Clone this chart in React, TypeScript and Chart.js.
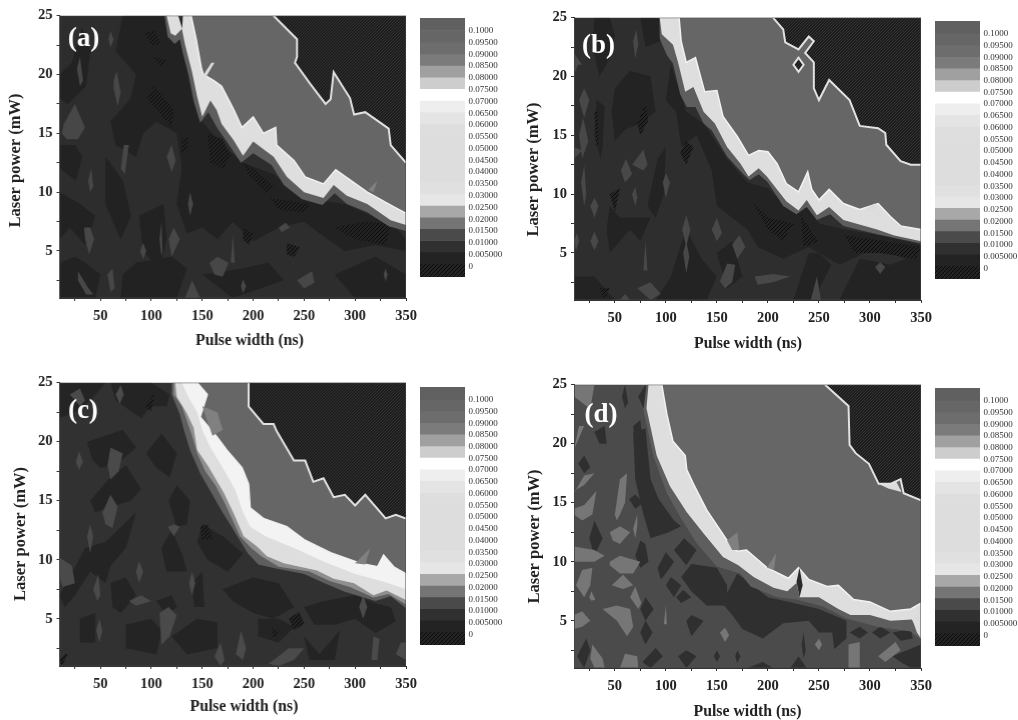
import React, { useEffect, useRef } from "react";
import { Chart, registerables } from "chart.js";
Chart.register(...registerables);

type Pt = [number, number];
const SERIF = '"Liberation Serif", serif';

// ---- axis content
const xTickValues = [25, 50, 75, 100, 125, 150, 175, 200, 225, 250, 275, 300, 325, 350];
const yTickValues = [2.5, 5, 7.5, 10, 12.5, 15, 17.5, 20, 22.5, 25];
const xTitle = "Pulse width (ns)";
const yTitle = "Laser power (mW)";

// ---- colour bar content (top to bottom)
const barEdges = [0.1054, 0.1001, 0.0952, 0.0902, 0.0853, 0.0803, 0.0754, 0.0704, 0.0655, 0.0605, 0.0556, 0.0506, 0.0457, 0.0407, 0.0358, 0.0308, 0.0259, 0.0209, 0.016, 0.011, 0.0061, 0.0011, -0.0045];
const barColors = ["#606060", "#666666", "#6d6d6d", "#7b7b7b", "#a0a0a0", "#cdcdcd", "#ffffff", "#eeeeee", "#e4e4e4", "#dedede", "#dddddd", "#dddddd", "#dddddd", "#dddddd", "#e0e0e0", "#e6e6e6", "#a8a8a8", "#757575", "#4a4a4a", "#303030", "#232323", "HATCH"];
const barTickValues = [0, 0.005, 0.01, 0.015, 0.02, 0.025, 0.03, 0.035, 0.04, 0.045, 0.05, 0.055, 0.06, 0.065, 0.07, 0.075, 0.08, 0.085, 0.09, 0.095, 0.1];
const barTickLabels = ["0", "0.005000", "0.01000", "0.01500", "0.02000", "0.02500", "0.03000", "0.03500", "0.04000", "0.04500", "0.05000", "0.05500", "0.06000", "0.06500", "0.07000", "0.07500", "0.08000", "0.08500", "0.09000", "0.09500", "0.1000"];

// ---- panel (a)
const aOuter: Pt[] = [[113, 25], [116, 23.2], [123, 22.6], [128, 23], [131, 21.8], [137, 19.8], [142, 17.6], [148, 15.9], [156, 16.8], [165, 15.4], [178, 13.8], [188, 12.5], [200, 13.3], [218, 12.3], [230, 10.6], [248, 9.4], [268, 8.9], [280, 9.9], [292, 9], [312, 8.3], [333, 7.1], [350, 6.7]];
const aLower: Pt[] = [[115, 25], [119, 23.5], [123.5, 23.3], [130, 23.9], [133, 22.6], [140, 20.2], [145, 18.1], [150, 16.4], [158, 17.8], [164, 17], [169, 15.8], [181, 14.4], [190, 13.1], [200, 14.3], [220, 13], [233, 11.3], [250, 10], [269, 9.5], [279, 10.6], [292, 9.7], [312, 9], [335, 7.6], [350, 7.2]];
const aUpper: Pt[] = [[139, 25], [144, 23], [149, 20.6], [151, 20], [161, 19.5], [169, 19], [181, 17], [189, 15.5], [200, 16.4], [210, 15], [222, 15.5], [223, 14], [240, 12.7], [251, 11.3], [269, 10.7], [281, 11.9], [312, 10], [335, 8.9], [350, 8.2]];
const aTop: Pt[] = [[220, 25], [243, 23], [243, 21.5], [241, 21], [256, 19.2], [271, 17.5], [276, 17.9], [279, 20.2], [295, 18], [299, 16.6], [310, 16.8], [333, 15.4], [335, 14], [350, 12.5]];
const aDark: Pt[][] = [
  [[72, 25], [118, 25], [120, 23.5], [130, 23], [135, 20.5], [140, 18], [150, 16], [170, 14], [190, 12.5], [220, 11.5], [250, 9.5], [290, 9], [340, 7], [350, 6], [350, 5], [320, 5.5], [290, 5], [265, 6.5], [250, 7.5], [225, 7], [200, 5.8], [180, 7.5], [165, 6], [150, 7], [135, 6.5], [125, 9], [130, 12], [125, 15], [105, 16], [92, 15], [85, 13], [65, 14], [60, 16], [80, 18], [85, 20], [65, 22]],
  [[10, 20], [22, 21], [32, 24], [40, 22], [36, 19], [18, 17.5], [10, 18]],
  [[10, 14], [25, 14], [32, 13], [26, 11], [10, 12]],
  [[10, 10], [30, 9], [45, 8], [35, 5.5], [20, 7], [10, 6]],
  [[55, 13], [72, 11], [80, 8], [70, 6], [55, 9]],
  [[88, 8], [112, 9], [115, 6], [108, 3.5], [92, 5]],
  [[10, 4], [25, 4.5], [35, 4], [50, 3], [45, 1], [10, 1]],
  [[70, 1], [125, 1], [135, 3.5], [120, 4.5], [85, 4], [72, 3]],
  [[150, 3], [180, 1], [230, 2.5], [215, 4], [190, 3.5]],
  [[280, 3], [320, 4.5], [350, 3], [350, 1], [300, 1]],
];
const aLight: Pt[][] = [
  [[14, 15.8], [25, 17.5], [35, 15.5], [28, 14.5], [17, 14.5], [12, 15]],
  [[63, 19.5], [66, 20.3], [70, 18.5], [67, 17.3], [63, 18.8]],
  [[30, 21.5], [33, 19.5], [30, 19], [27, 20.5]],
  [[78, 14], [74, 11.5], [70, 12], [73, 14]],
  [[34, 7], [40, 7], [44, 6], [39, 4.7], [35, 6]],
  [[28, 3.3], [37, 2], [43, 1.3], [36, 1.3], [28, 2.5]],
  [[117, 6], [122, 7], [128, 6], [120, 4.5]],
  [[157, 4], [165, 4.5], [176, 4], [170, 2.8], [162, 3]],
  [[243, 2.5], [258, 3.3], [260, 2.3], [250, 1.8]],
  [[115, 13], [120, 14], [124, 12.7], [120, 11.7]],
  [[38, 11], [41, 12], [43, 10.5], [40, 10]],
  [[58, 23], [60, 23.7], [63, 23], [60, 22.3]],
  [[178, 4], [182, 4], [180, 6.5]],
  [[89, 5], [92, 5.7], [95, 5], [92, 4.3]],
  [[133, 1], [140, 2.5], [148, 1]],
  [[57, 3], [62, 3.5], [64, 1.8], [60, 1.5]],
  [[136, 9], [138, 10], [141, 9], [138, 8]],
  [[328, 3], [330, 3.5], [332, 3], [330, 2.4]],
  [[188, 2], [190, 2.6], [193, 2], [190, 1.4]],
  [[225, 7], [232, 7.4], [236, 7], [228, 6.6]],
  [[108, 6], [110, 7.5], [111, 5], [110, 4.5]],
];
const aHatch: Pt[][] = [
  [[96, 18], [103, 19], [122, 17], [120, 15.5], [110, 16.5]],
  [[155, 15], [170, 14.5], [178, 13], [170, 12], [158, 12.5]],
  [[190, 12.5], [200, 12], [220, 10.5], [212, 10], [195, 11.5]],
  [[217, 9.5], [255, 9], [250, 8.3], [225, 8.5]],
  [[280, 7], [310, 7.5], [335, 7.3], [330, 5.5], [300, 6]],
  [[233, 5.7], [246, 5.3], [240, 4.5], [233, 4.7]],
  [[94, 23.5], [103, 23.8], [109, 22.5], [100, 22.5]],
  [[102, 21.5], [115, 21.2], [110, 20.6]],
  [[130, 14.5], [136, 14.8], [135, 13.5], [130, 13.4]],
  [[190, 7], [200, 6.5], [196, 5.5], [190, 6]],
];
const aGlow: Pt[][] = [[[150, 19.8], [159, 21], [162, 21], [153, 19.7]]];
const aHaze: Pt[][] = [[[313, 10.2], [322, 11], [318, 10]]];
const aSpike: Pt[][] = [[[126.5, 25], [131, 25], [130.3, 23.9]]];

// ---- panel (b)
const bOuter: Pt[] = [[93.7, 25], [94, 23.2], [101, 21.8], [107, 21.1], [114, 18.5], [120.5, 17.4], [129, 17.4], [137, 16], [145, 15.4], [160, 13.2], [176, 11.7], [182, 11.2], [191, 11.7], [200, 11], [215, 9], [228, 8.3], [238, 8.9], [248, 7.8], [261, 8.3], [274, 7.3], [307, 6.6], [323, 6.3], [350, 5.8]];
const bLower: Pt[] = [[94, 25], [96, 23.6], [107, 22.7], [112, 21.2], [119, 18.7], [127, 19.1], [137, 17], [148, 16], [160, 14], [173, 12.6], [181, 11.5], [191, 12.2], [199, 11.5], [218, 9.4], [230, 8.6], [238, 9.5], [248, 8.2], [260, 8.9], [274, 7.8], [307, 7], [323, 6.5], [350, 6]];
const bUpper: Pt[] = [[113, 25], [115, 23], [120, 21.2], [129, 21.6], [138, 18.7], [150, 18.8], [156, 16.6], [170, 14.9], [181, 13.3], [191, 13.7], [200, 13.6], [209, 12.6], [218, 10.9], [230, 10.2], [239, 11.9], [243, 10.4], [250, 9.5], [260, 10.4], [274, 9.2], [290, 8.7], [308, 9.2], [320, 8.1], [330, 7.3], [350, 7]];
const bTop: Pt[] = [[205, 25], [215, 24], [217, 22.9], [230, 22.3], [240, 23.4], [245, 23], [236.5, 22], [245, 21.2], [245, 19], [250, 18], [260, 19.7], [280, 18], [290, 15.8], [308, 15.6], [315, 15.2], [316, 14.2], [330, 12.8], [340, 12.5], [350, 12.5]];
const bDark: Pt[][] = [
  [[30, 25], [45, 25], [50, 23.5], [45, 21.5], [35, 20], [28, 22.5]],
  [[75, 25], [93, 25], [95, 23], [80, 22.5]],
  [[32, 18], [40, 17.5], [38, 14], [36, 13], [30, 15]],
  [[50, 19], [65, 20.5], [85, 20], [90, 17], [75, 16], [60, 15.5], [50, 14.5], [47, 17]],
  [[82, 9], [92, 13], [100, 14], [98, 10], [90, 8]],
  [[105, 21], [120, 17], [137, 16], [160, 13], [180, 11], [200, 10.5], [218, 9], [240, 8.8], [250, 7.5], [275, 7], [310, 6.5], [350, 5.7], [350, 4], [320, 5], [295, 5], [270, 4], [240, 5.5], [215, 4.5], [190, 5.5], [180, 7], [165, 8], [150, 9], [145, 12], [130, 15], [115, 14], [110, 17], [100, 18]],
  [[240, 5], [250, 5], [262, 4], [245, 1], [225, 1]],
  [[270, 1], [290, 4.5], [320, 4], [350, 5], [350, 1]],
  [[10, 3], [30, 3], [50, 1], [10, 1]],
  [[90, 1], [140, 1], [150, 3], [135, 4.5], [120, 7], [112, 5], [105, 3]],
  [[45, 9], [55, 8], [85, 8], [75, 6], [65, 7], [60, 6.5], [45, 5], [42, 7]],
  [[150, 5], [165, 6], [175, 3], [160, 2]],
];
const bLight: Pt[][] = [
  [[10, 20.2], [14, 21], [18, 21], [10, 22]],
  [[15, 18], [20, 19], [25, 18], [20, 16.5]],
  [[15, 15], [19, 16.5], [24, 14.5], [18, 13]],
  [[10, 14], [18, 13.7], [10, 13]],
  [[68, 23], [71, 24], [73, 22.7], [70, 21.5]],
  [[56, 12], [61, 13], [67, 11.7], [60, 11]],
  [[67, 12.5], [78, 13.8], [82, 12.5], [78, 12]],
  [[17, 11], [20, 12.5], [22, 10], [20, 9]],
  [[67, 10], [70, 10.6], [72, 9.7], [70, 9]],
  [[97, 11], [100, 11.8], [104, 11], [100, 9.7]],
  [[26, 9], [30, 9.7], [34, 9], [30, 8]],
  [[26, 6], [30, 6.8], [34, 6], [30, 5.2]],
  [[10, 6], [13, 6.7], [15, 6], [12, 5.2]],
  [[116, 7], [120, 8.2], [124, 7], [120, 5.5]],
  [[117, 5], [120, 6], [123, 4.7], [120, 3.3]],
  [[145, 7], [150, 8], [155, 6.7], [150, 6]],
  [[78, 3.5], [80, 6], [82, 3.5]],
  [[153, 2.6], [160, 4.1], [168, 4], [165, 2.5], [158, 2]],
  [[165, 5.7], [172, 6.5], [178, 5.5], [170, 4.5]],
  [[72, 2], [85, 2.5], [95, 1.5], [85, 1]],
  [[187, 3], [205, 3.2], [222, 3], [205, 2.5], [190, 2.3]],
  [[242, 1], [248, 3], [252, 1]],
  [[55, 1], [60, 1.5], [65, 1]],
  [[305, 3.8], [310, 4.2], [315, 3.8], [310, 3.2]],
];
const bHatch: Pt[][] = [
  [[30, 17], [33, 17], [34, 14.5], [32, 14]],
  [[72, 16], [80, 17.7], [83, 16.3], [75, 15]],
  [[114, 13.5], [120, 14.5], [127, 14], [120, 12.5]],
  [[185, 9.3], [200, 8], [225, 7.5], [215, 6], [200, 7]],
  [[232, 8.3], [245, 6.5], [250, 6], [235, 5.5]],
  [[275, 6.5], [300, 6.2], [350, 5.5], [345, 4.5], [310, 5], [285, 5]],
  [[45, 10], [55, 10.5], [50, 8.5]],
  [[35, 2], [45, 2], [40, 1]],
];
const bGlow: Pt[][] = [[[296, 8.8], [305, 9.2], [312, 8], [300, 8.5]]];
const bIsland: Pt[][] = [[[225, 21], [230, 21.6], [235, 21], [230, 20.4]]];

// ---- panel (c)
const cOuter: Pt[] = [[120, 25], [120, 24], [128, 22.3], [132, 21], [138, 19.3], [148, 17.3], [160, 15.5], [170, 14], [178, 12.9], [185, 11.9], [195, 10.5], [205, 9.6], [220, 9.3], [250, 8.8], [270, 8], [290, 7.3], [320, 6.5], [335, 6.9], [350, 5.9]];
const cMid: Pt[] = [[122, 25], [122, 24], [130, 23], [134, 22], [140, 20.5], [145, 19], [153, 17.5], [163, 16.3], [172, 14.8], [180, 13.3], [187, 12], [198, 11], [208, 10.3], [225, 9.4], [255, 9], [275, 8.2], [295, 7.7], [318, 6.8], [333, 7.1], [350, 6.2]];
const cLower: Pt[] = [[123.5, 25], [125, 23.8], [135, 22.4], [141.5, 21.2], [145, 19.3], [156, 17.9], [171, 15.7], [181, 13.9], [190.6, 12], [204, 11.1], [213.5, 10.3], [230, 9.7], [262.6, 9.1], [279, 8.4], [299, 8], [318, 7], [331, 7.4], [350, 6.6]];
const cCore: Pt[] = [[130, 25], [135, 24], [145, 22.5], [150, 21], [158, 19.5], [170, 17.8], [182, 16], [190, 14], [197, 12.8], [212, 12], [240, 11], [270, 9.8], [300, 8.8], [330, 8.1], [350, 7.5]];
const cUpper: Pt[] = [[145, 25], [155, 24], [148, 22.1], [164.5, 20.4], [174, 19.3], [189, 17.8], [195.5, 16.4], [197, 14.4], [210, 13.5], [233, 12.8], [250, 11.7], [276, 10.6], [305, 9.7], [322, 9.4], [328, 10.4], [338, 9.4], [350, 8.8]];
const cTop: Pt[] = [[195.5, 25], [195.5, 23], [210, 21.5], [220, 21.5], [223, 20.9], [240, 18.4], [251, 18.4], [259, 16.6], [269, 16.9], [279, 15.3], [290, 15.5], [300, 14.6], [310, 15.5], [330, 13.5], [340, 13.8], [350, 13.5]];
const cDark: Pt[][] = [
  [[37, 20], [72, 21], [85, 19.5], [65, 18], [50, 17.8], [42, 18.5]],
  [[95, 19], [110, 20.7], [125, 19], [118, 17], [105, 17.8]],
  [[40, 15], [60, 17], [75, 18], [90, 16], [80, 15], [60, 14.5], [45, 14]],
  [[117, 15], [125, 16.3], [138, 15], [135, 13], [125, 12.8]],
  [[10, 7], [20, 8.5], [35, 11], [55, 11.5], [85, 14], [75, 11], [60, 9.5], [55, 8], [40, 9], [25, 7], [15, 6]],
  [[110, 11], [120, 12.5], [130, 10.5], [135, 9], [115, 9]],
  [[150, 13], [170, 12], [190, 10.5], [175, 9], [155, 10], [145, 11.5]],
  [[10, 25], [55, 25], [40, 23.5], [25, 22.5], [10, 22]],
  [[60, 25], [100, 25], [118, 24], [115, 23], [100, 23], [90, 22], [65, 23.5]],
  [[60, 8], [75, 8.5], [85, 7], [70, 5.5], [62, 6]],
  [[105, 6.5], [120, 7], [125, 6], [115, 5.3]],
  [[140, 8], [150, 9], [152, 6], [142, 6]],
  [[170, 7.5], [200, 8.5], [225, 8], [240, 6], [220, 5], [200, 5.5], [180, 6.5]],
  [[250, 6], [270, 6.5], [300, 7], [320, 6.3], [335, 6], [340, 4.8], [320, 3.8], [300, 5], [280, 4.5], [260, 4.5]],
  [[205, 5], [225, 5], [240, 4.3], [225, 3], [205, 3.5]],
  [[75, 4.5], [100, 5], [110, 4], [105, 2], [75, 2.5]],
  [[120, 3.5], [145, 5], [165, 4.7], [165, 2.5], [135, 2]],
  [[30, 5], [45, 5.5], [45, 3], [30, 3]],
  [[250, 3.5], [265, 2], [285, 4], [280, 1.5], [255, 1.5]],
];
const cLight: Pt[][] = [
  [[52, 14], [60, 15.5], [67, 14.5], [62, 12.7], [55, 13]],
  [[57, 18], [60, 19.5], [72, 19], [68, 17.5], [60, 16.8]],
  [[26, 18.3], [29, 19.2], [33, 18.3], [29, 17.6]],
  [[10, 10.2], [22, 9.5], [25, 8], [13, 7.7], [10, 8.5]],
  [[43, 7.5], [48, 8.8], [50, 7], [47, 6.5]],
  [[108, 5.5], [117, 6], [125, 5.3], [118, 3.5], [110, 2.8]],
  [[78, 6.5], [90, 7], [100, 6.5], [85, 6.1]],
  [[85, 9], [88, 9.9], [92, 9], [88, 8]],
  [[116, 12.8], [122, 13], [128, 12.8], [122, 12]],
  [[37, 12], [40, 13], [43, 12], [40, 10.5]],
  [[183, 2], [188, 4], [193, 2.5], [190, 1.5]],
  [[215, 1.2], [235, 2.5], [250, 2.5], [240, 1.5], [225, 1]],
  [[316, 1.5], [318, 3.5], [324, 3.3], [322, 1.5]],
  [[340, 2], [345, 3], [350, 3], [350, 1.5]],
  [[162, 1.8], [168, 3], [172, 1.5], [168, 1]],
  [[304, 6], [308, 7], [312, 6], [308, 5]],
  [[46, 4], [49, 5], [52, 4], [49, 3]],
  [[20, 24], [30, 24.5], [35, 23.5], [30, 23]],
  [[65, 24], [70, 24.8], [73, 24], [69, 23.2]],
  [[137, 8], [140, 9], [143, 8], [140, 7]],
];
const cHatch: Pt[][] = [
  [[93, 23], [103, 24], [100, 22.6]],
  [[148, 12.8], [155, 13], [160, 11.8], [150, 11.7]],
  [[235, 5], [245, 5.6], [250, 4.6], [240, 4]],
  [[218, 4.2], [225, 3.9], [220, 3.4]],
  [[10, 1.5], [15, 2], [18, 2], [12, 1]],
];
const cHaze: Pt[][] = [[[150, 23], [165, 22.5], [170, 21], [160, 20.5]], [[300, 9.7], [315, 11], [310, 9.6]]];

// ---- panel (d)
const dOuter: Pt[] = [[81, 25], [78, 22.8], [88, 18.9], [101, 15.8], [114, 13.8], [130, 11.6], [150, 9.6], [173, 9], [183, 7.9], [209, 7], [228, 6.8], [254, 6.2], [277, 5.2], [307, 4.5], [340, 4.1], [350, 3.4]];
const dLower: Pt[] = [[83, 25], [81, 23], [91, 19], [104, 16.4], [120.5, 14.2], [137, 12.4], [156, 10.4], [171, 9.7], [186, 8.7], [205.5, 7.8], [219, 7.5], [228, 8.2], [231, 7], [250, 7], [269, 6], [281, 5.5], [300, 5.5], [320, 5], [341, 5.1], [350, 3.7]];
const dUpper: Pt[] = [[96, 25], [101, 22.5], [107, 20.2], [119, 19], [120.5, 17.8], [127, 16.6], [140, 14.4], [160, 11.8], [170, 10.9], [179, 11], [199, 9.5], [220, 8.6], [230, 9.5], [240, 8.5], [258, 7.9], [269, 8], [284, 6.8], [300, 6.6], [320, 5.8], [340, 6], [350, 6.5]];
const dTop: Pt[] = [[256, 25], [279, 23.2], [280, 19.9], [286, 19.2], [299, 18.3], [308.5, 16.6], [320, 16.6], [330, 17], [333, 15.8], [350, 15.2]];
const dDark: Pt[][] = [
  [[68, 21], [80, 21.3], [85, 17], [93, 15.3], [108, 13.5], [115, 13], [103, 12.5], [85, 12], [78, 14], [70, 17]],
  [[115, 8.7], [125, 9.8], [150, 9.5], [160, 8], [160, 6.3], [140, 6.3], [125, 7.5]],
  [[155, 6.5], [170, 9], [185, 8], [200, 7], [225, 6.5], [250, 6], [277, 5], [277, 3.5], [265, 2.6], [263, 4], [250, 4], [240, 5], [215, 4.8], [195, 3.5], [175, 4.3], [165, 5.5]],
  [[70, 10.5], [75, 11.8], [80, 11.5], [83, 10], [75, 9.5]],
  [[92, 9.5], [100, 10.8], [108, 10], [100, 9], [95, 8.5]],
  [[108, 11], [118, 12], [130, 11], [120, 9.7]],
  [[25, 12], [30, 13.5], [38, 12], [30, 10.5]],
  [[13, 2], [22, 3.5], [26, 2.5], [20, 1]],
  [[57, 24], [60, 25], [63, 23.5], [60, 23]],
  [[73, 24], [80, 25], [83, 23.5], [78, 23]],
  [[68, 21.5], [75, 22], [77, 20.5], [70, 20]],
  [[14, 18.3], [20, 19], [26, 18], [20, 17.5]],
  [[30, 21], [40, 21.5], [42, 20], [35, 20]],
  [[64, 15.3], [70, 15.7], [78, 15], [70, 14.5]],
  [[100, 8], [105, 8.7], [115, 8], [108, 7]],
  [[110, 7], [117, 7.6], [125, 7], [115, 6.5]],
  [[75, 6], [80, 7], [88, 6], [80, 5]],
  [[75, 4], [80, 5], [87, 4], [80, 3]],
  [[120, 5], [125, 5.5], [137, 5], [125, 3.7]],
  [[77, 1.5], [90, 2.7], [97, 2], [85, 1]],
  [[112, 2], [120, 2.5], [130, 2], [120, 1]],
  [[280, 4], [290, 4.5], [298, 4], [290, 3.5]],
  [[302, 4], [310, 4.5], [320, 4], [310, 3.5]],
  [[322, 4], [340, 4.3], [342, 3.5], [330, 3.3]],
  [[322, 2], [350, 3], [350, 1], [340, 1], [330, 1.5]],
  [[233, 3], [235, 4], [237, 2.5], [235, 1.8]],
  [[147, 2], [150, 2.5], [153, 2], [150, 1.5]],
  [[168, 2], [170, 2.5], [173, 2], [170, 1.4]],
  [[180, 1], [195, 1.5], [205, 1]],
  [[222, 1], [230, 2], [238, 1]],
];
const dLight: Pt[][] = [
  [[10, 25], [30, 25], [27, 23.5], [25, 23], [10, 24]],
  [[10, 19.5], [15, 21.5], [20, 21.5], [15, 20.5]],
  [[10, 15.8], [20, 17.3], [30, 17.5], [20, 16.5], [10, 16]],
  [[10, 14.5], [20, 14.8], [32, 16], [28, 14], [18, 13.5], [10, 14]],
  [[50, 14], [55, 17], [62, 17.5], [60, 15], [55, 14], [52, 13.5]],
  [[45, 12.5], [55, 13], [65, 12.5], [55, 11.5], [48, 11.8]],
  [[45, 10], [55, 10.5], [75, 10], [68, 9], [55, 9], [45, 9.7]],
  [[10, 11.3], [30, 11], [40, 10.5], [30, 10], [20, 10], [10, 10]],
  [[12, 8], [18, 9.3], [28, 9.5], [26, 8], [20, 7]],
  [[47, 8], [58, 8.9], [68, 8], [58, 7.7]],
  [[65, 7], [70, 7.9], [76, 6.5], [73, 6]],
  [[25, 7], [27, 7.5], [31, 6.8], [27, 6.7]],
  [[38, 6], [52, 6.3], [65, 6], [68, 4.5], [62, 3.7], [52, 5]],
  [[10, 5.5], [18, 5.8], [26, 5], [18, 4.5], [10, 4.3]],
  [[28, 3], [38, 1.8], [40, 1], [30, 1], [26, 1.8]],
  [[55, 1], [60, 2.2], [72, 2], [73, 1]],
  [[279, 1], [290, 1], [290, 3.2], [279, 3]],
  [[308, 2], [325, 3.2], [330, 2.5], [315, 1.5]],
  [[153, 4], [158, 4.4], [162, 3.8], [158, 3.2]],
  [[246, 3], [250, 3.5], [253, 3], [250, 2.5]],
  [[68, 12.8], [72, 14], [72, 13], [70, 12]],
  [[98, 4.7], [100, 6.3], [101, 4.7]],
];
const dGlow: Pt[][] = [[[342, 5], [350, 6.5], [350, 3.5], [346, 4]], [[308, 16.6], [325, 16.9], [331, 15.9], [318, 16.2]]];
const dHaze: Pt[][] = [[[160, 11.8], [170, 12.5], [172, 11], [165, 11]], [[199, 9.5], [208, 10.7], [206, 9.3]]];
const dSpike: Pt[][] = [[[228, 8.3], [231, 9.5], [234, 8], [231, 7]]];

const panelTags = ["(a)", "(b)", "(c)", "(d)"];
const tagAnchors: Pt[] = [[33.5, 23], [34, 22.6], [33, 22.6], [36.5, 22.4]];
const panelData = [
  { outer: aOuter, mid: null, lower: aLower, core: null, upper: aUpper, top: aTop, dark: aDark, light: aLight, hatch: aHatch, glow: aGlow, haze: aHaze, island: [], spike: aSpike },
  { outer: bOuter, mid: null, lower: bLower, core: null, upper: bUpper, top: bTop, dark: bDark, light: bLight, hatch: bHatch, glow: bGlow, haze: [], island: bIsland, spike: [] },
  { outer: cOuter, mid: cMid, lower: cLower, core: cCore, upper: cUpper, top: cTop, dark: cDark, light: cLight, hatch: cHatch, glow: [], haze: cHaze, island: [], spike: [] },
  { outer: dOuter, mid: null, lower: dLower, core: null, upper: dUpper, top: dTop, dark: dDark, light: dLight, hatch: [], glow: dGlow, haze: dHaze, island: [], spike: dSpike },
];
const panelTones = [
  { base: "#2d2d2d", dark: "#222222", light: "#474747" },
  { base: "#2e2e2e", dark: "#232323", light: "#484848" },
  { base: "#313131", dark: "#242424", light: "#4a4a4a" },
  { base: "#4b4b4b", dark: "#2f2f2f", light: "#767676" },
];
const plotBoxes = [
  { left: 59.5, top: 14.5, w: 346, h: 283.5, yTitleX: 16, yTitleCy: 160, xTitleCx: 249, xTitleY: 340 },
  { left: 574, top: 16.5, w: 347, h: 283.5, yTitleX: 534, yTitleCy: 169, xTitleCx: 748, xTitleY: 343 },
  { left: 59.5, top: 382, w: 346, h: 284, yTitleX: 21, yTitleCy: 534, xTitleCx: 243.5, xTitleY: 707 },
  { left: 574, top: 384, w: 347, h: 284, yTitleX: 535, yTitleCy: 536.5, xTitleCx: 747.5, xTitleY: 712 },
];
const barBoxes = [
  { left: 420, top: 18, h: 259 },
  { left: 935, top: 21, h: 258 },
  { left: 420, top: 387, h: 258 },
  { left: 935, top: 388, h: 258 },
];

function hatchPattern(bg: string, line: string, step: number) {
  const c = document.createElement("canvas");
  c.width = step;
  c.height = step;
  const g = c.getContext("2d")!;
  g.fillStyle = bg;
  g.fillRect(0, 0, step, step);
  g.strokeStyle = line;
  g.lineWidth = 1;
  g.beginPath();
  g.moveTo(-1, step + 1);
  g.lineTo(step + 1, -1);
  g.moveTo(-1, 1);
  g.lineTo(1, -1);
  g.moveTo(step - 1, step + 1);
  g.lineTo(step + 1, step - 1);
  g.stroke();
  return g.createPattern(c, "repeat")!;
}

const toXY = (p: Pt[]) => p.map(([x, y]) => ({ x, y }));
const region = (p: Pt[], color: any) => ({
  data: toXY(p), showLine: true, fill: "shape", backgroundColor: color, borderWidth: 0, borderColor: "transparent", pointRadius: 0, tension: 0,
});
const stroke = (p: Pt[], color: string, w: number) => ({
  data: toXY(p), showLine: true, fill: false, borderColor: color, borderWidth: w, pointRadius: 0, tension: 0, borderJoinStyle: "miter",
});
const toCorner = (p: Pt[]): Pt[] => [...p, [350, 25]];
const whole: Pt[] = [[10, 1], [350, 1], [350, 25], [10, 25]];
const wholeClosed: Pt[] = [[10, 1], [350, 1], [350, 25], [10, 25], [10, 1]];

function panelDatasets(i: number) {
  const d = panelData[i];
  const t = panelTones[i];
  const pale = hatchPattern("#232323", "#0a0a0a", 4);
  const black = hatchPattern("#1d1d1d", "#333333", 3);
  const sets: any[] = [region(whole, t.base)];
  d.dark.forEach((p) => sets.push(region(p, t.dark)));
  d.light.forEach((p) => sets.push(region(p, t.light)));
  d.hatch.forEach((p) => sets.push(region(p, pale)));
  sets.push(region(toCorner(d.outer), "#5e5e5e"));
  if (d.mid) sets.push(region(toCorner(d.mid), "#8f8f8f"));
  sets.push(region(toCorner(d.lower), "#dedede"));
  if (d.core) sets.push(region(toCorner(d.core), "#f3f3f3"));
  sets.push(region(toCorner(d.upper), "#666666"));
  sets.push(stroke(d.upper, "#f2f2f2", 1.5));
  d.haze.forEach((p) => sets.push(region(p, "#808080")));
  d.glow.forEach((p) => sets.push(region(p, "#dcdcdc")));
  sets.push(region(toCorner(d.top), black));
  sets.push(stroke(d.top, "#e2e2e2", 2));
  d.island.forEach((p) => {
    sets.push(region(p, black));
    sets.push(stroke([...p, p[0], p[1]], "#e2e2e2", 2));
  });
  d.spike.forEach((p) => sets.push(region(p, "#2a2a2a")));
  sets.push(stroke(wholeClosed, "#444444", 1));
  return sets.reverse();
}

function Panel({ index }: { index: number }) {
  const ref = useRef<HTMLCanvasElement>(null);
  const box = plotBoxes[index];
  const canvasLeft = box.yTitleX - 10;
  const canvasTop = box.top - 12;
  const axisW = box.left - canvasLeft;
  const padR = 20;
  const width = axisW + box.w + padR;
  const canvasBottom = box.xTitleY + 10;
  const height = canvasBottom - canvasTop;
  const axisH = canvasBottom - (box.top + box.h);
  useEffect(() => {
    const textPlugin = {
      id: "panelText",
      afterDatasetsDraw(chart: any) {
        const g = chart.ctx;
        const [ax, ay] = tagAnchors[index];
        g.save();
        g.textAlign = "center";
        g.textBaseline = "middle";
        g.font = `bold 27px ${SERIF}`;
        g.fillStyle = "#ffffff";
        g.fillText(panelTags[index], chart.scales.x.getPixelForValue(ax), chart.scales.y.getPixelForValue(ay));
        g.fillStyle = "#222222";
        g.font = `bold 15.8px ${SERIF}`;
        g.fillText(xTitle, box.xTitleCx - canvasLeft, box.xTitleY - canvasTop);
        g.translate(box.yTitleX - canvasLeft, box.yTitleCy - canvasTop);
        g.rotate(-Math.PI / 2);
        g.font = `bold 16.5px ${SERIF}`;
        g.fillText(yTitle, 0, 0);
        g.restore();
      },
    };
    const tickFont = { family: SERIF, size: 14.5, weight: "bold" as const };
    const chart = new Chart(ref.current!, {
      type: "scatter",
      data: { datasets: panelDatasets(index) },
      plugins: [textPlugin],
      options: {
        animation: false,
        responsive: false,
        events: [],
        layout: { padding: { top: 12, right: padR, left: 0, bottom: 0 } },
        plugins: { legend: { display: false }, tooltip: { enabled: false } },
        scales: {
          x: {
            type: "linear", min: 10, max: 350,
            afterBuildTicks: (s: any) => { s.ticks = xTickValues.map((value) => ({ value })); },
            afterFit: (s: any) => { s.height = axisH; },
            grid: { display: true, drawOnChartArea: false, tickLength: 3, tickColor: "#333333" },
            border: { color: "#333333" },
            ticks: { autoSkip: false, maxRotation: 0, font: tickFont, color: "#222222", padding: 7, callback: (v: any) => (v % 50 === 0 ? String(v) : "") },
          },
          y: {
            type: "linear", min: 1, max: 25,
            afterBuildTicks: (s: any) => { s.ticks = yTickValues.map((value) => ({ value })); },
            afterFit: (s: any) => { s.width = axisW; },
            grid: { display: true, drawOnChartArea: false, tickLength: 3, tickColor: "#333333" },
            border: { color: "#333333" },
            ticks: { autoSkip: false, font: tickFont, color: "#222222", padding: 4, callback: (v: any) => (v % 5 === 0 ? String(v) : "") },
          },
        },
      } as any,
    });
    return () => chart.destroy();
  }, []);
  return <canvas ref={ref} width={width} height={height} style={{ position: "absolute", left: canvasLeft, top: canvasTop, width, height, display: "block" }} />;
}

function Bar({ index }: { index: number }) {
  const ref = useRef<HTMLCanvasElement>(null);
  const box = barBoxes[index];
  const pad = 12;
  useEffect(() => {
    const pale = hatchPattern("#232323", "#0a0a0a", 4);
    const datasets = barColors.map((c, i) => ({
      data: [[barEdges[i + 1], barEdges[i]]],
      backgroundColor: c === "HATCH" ? pale : c,
      borderWidth: 0,
      barPercentage: 1,
      categoryPercentage: 1,
      grouped: false,
    }));
    const chart = new Chart(ref.current!, {
      type: "bar",
      data: { labels: [""], datasets },
      options: {
        animation: false,
        responsive: false,
        events: [],
        layout: { padding: { top: pad, bottom: pad, left: 0, right: 0 } },
        plugins: { legend: { display: false }, tooltip: { enabled: false } },
        scales: {
          x: { display: false },
          y: {
            position: "right", min: barEdges[barEdges.length - 1], max: barEdges[0],
            afterBuildTicks: (s: any) => { s.ticks = barTickValues.map((value) => ({ value })); },
            afterFit: (s: any) => { s.width = 53; },
            grid: { display: false, drawTicks: false },
            border: { display: false },
            ticks: {
              autoSkip: false, padding: 3.5, color: "#333333",
              font: { family: SERIF, size: 9 },
              callback: (v: any) => barTickLabels[barTickValues.findIndex((t) => Math.abs(t - v) < 1e-6)] ?? "",
            },
          },
        },
      } as any,
    });
    return () => chart.destroy();
  }, []);
  const h = box.h + pad * 2;
  return <canvas ref={ref} width={98} height={h} style={{ position: "absolute", left: box.left, top: box.top - pad, width: 98, height: h, display: "block" }} />;
}

export default function App() {
  return (
    <div style={{ position: "absolute", left: 0, top: 0, width: 1018, height: 720, background: "#ffffff", overflow: "hidden", filter: "blur(0.55px)" }}>
      {panelTags.map((_, i) => <Panel key={"p" + i} index={i} />)}
      {panelTags.map((_, i) => <Bar key={"b" + i} index={i} />)}
    </div>
  );
}
